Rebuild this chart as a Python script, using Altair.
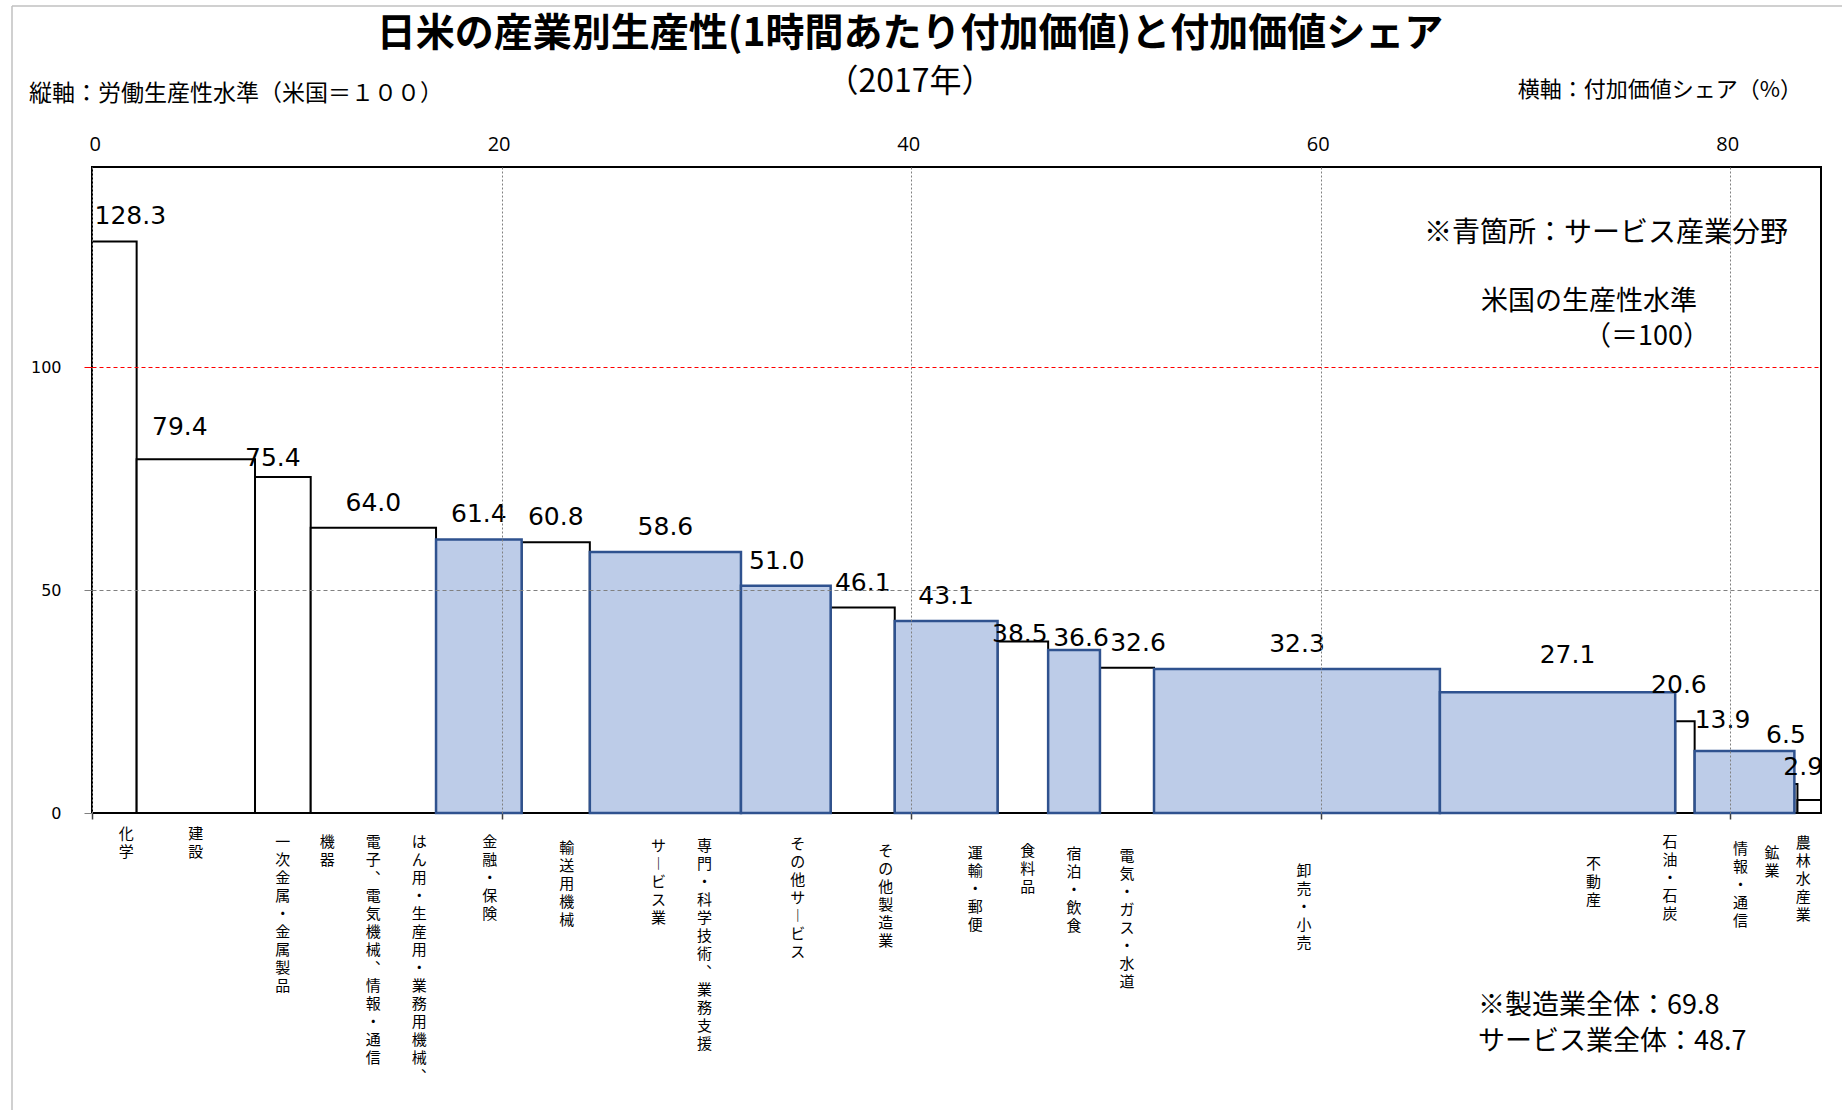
import altair as alt
import pandas as pd

# ---------------- data ----------------
industries = [
    "化学", "建設", "一次金属・金属製品",
    "はん用・生産用・業務用機械、電子、電気機械、情報・通信機器",
    "金融・保険", "輸送用機械", "専門・科学技術、業務支援サービス業",
    "その他サービス", "その他製造業", "運輸・郵便", "食料品", "宿泊・飲食",
    "電気・ガス・水道", "卸売・小売", "不動産", "石油・石炭", "情報・通信",
    "鉱業", "農林水産業",
]
productivity = [128.3, 79.4, 75.4, 64.0, 61.4, 60.8, 58.6, 51.0, 46.1, 43.1,
                38.5, 36.6, 32.6, 32.3, 27.1, 20.6, 13.9, 6.5, 2.9]
va_share = [2.18, 5.78, 2.72, 6.12, 4.18, 3.33, 7.38, 4.38, 3.13, 5.02,
            2.47, 2.53, 2.64, 13.96, 11.49, 0.95, 4.87, 0.15, 1.15]
service_flag = [0, 0, 0, 0, 1, 0, 1, 1, 0, 1, 0, 1, 0, 1, 1, 0, 1, 0, 0]
x_ticks = [0, 20, 40, 60, 80]
y_ticks = [0, 50, 100]
us_level = 100
summary_names = ["※製造業全体", "サービス業全体"]
summary_values = [69.8, 48.7]

# vertical label columns (read right to left)
label_columns = {
    industries[3]: ["はん用・生産用・業務用機械、", "電子、電気機械、情報・通信", "機器"],
    industries[6]: ["専門・科学技術、業務支援", "サービス業"],
}

# ---------------- layout / style ----------------
W, H = 1729, 646
PAD = {"left": 92, "top": 167, "right": 21, "bottom": 297}
Y_MAX = 145
X_MAX = sum(va_share)
PX_X = W / X_MAX
PX_Y = H / Y_MAX
JP = "Noto Sans CJK JP"
COL_GAP = 46
VAL_DY = -25
CAT_DY = 22
CAT_FS = 15
CAT_LH = 18
VERT = str.maketrans({"ー": "︱", "、": "︑"})

# pixel nudges (dx, dy) imitating the hand-placed labels of the original
VAL_NUDGE = {"化学": (16, 0), "建設": (-16, -7), "一次金属・金属製品": (-10, 6),
             "その他サービス": (-9, 0),
             "食料品": (-3, 18), "宿泊・飲食": (7, 13), "電気・ガス・水道": (11, 0),
             "不動産": (10, -12),
             "石油・石炭": (-6, -11), "情報・通信": (-22, -6), "鉱業": (-10, -24),
             "農林水産業": (-6, -8)}
CAT_NUDGE = {"化学": (12, -8), "建設": (0, -8), "金融・保険": (11, 0), "輸送用機械": (11, 6),
             industries[6]: (16, 4), "その他サービス": (12, 2), "その他製造業": (23, 9),
             "運輸・郵便": (29, 11), "食料品": (5, 9), "宿泊・飲食": (0, 12),
             "電気・ガス・水道": (0, 14), "卸売・小売": (7, 29), "不動産": (36, 22),
             "石油・石炭": (-15, 0), "情報・通信": (-4, 7), "鉱業": (-24, 11),
             "農林水産業": (-6, 1)}

# ---------------- tables ----------------
rows, left = [], 0.0
for name, p, s, svc in zip(industries, productivity, va_share, service_flag):
    rows.append(dict(name=name, prod=p, x0=left, x1=left + s, mid=left + s / 2, svc=svc))
    left += s
bars = pd.DataFrame(rows)

val_rows = []
for r in rows:
    dx, dy = VAL_NUDGE.get(r["name"], (0, 0))
    val_rows.append(dict(lx=r["mid"] + dx / PX_X, ly=r["prod"] - dy / PX_Y,
                         t=f"{r['prod']:.1f}"))
vals = pd.DataFrame(val_rows)

cat_rows = []
for r in rows:
    cols = label_columns.get(r["name"], [r["name"]])
    n = len(cols)
    dx, dy = CAT_NUDGE.get(r["name"], (0, 0))
    for i, c in enumerate(cols):
        off = ((n - 1) / 2 - i) * COL_GAP + dx
        cat_rows.append(dict(lx=r["mid"] + off / PX_X, ly=-dy / PX_Y,
                             t="\n".join(c.translate(VERT))))
cats = pd.DataFrame(cat_rows)

# ---------------- chart ----------------
x_scale = alt.Scale(domain=[0, X_MAX], nice=False, zero=True)
y_scale = alt.Scale(domain=[0, Y_MAX], nice=False)

x_top_axis = alt.Axis(orient="top", values=x_ticks, title=None, grid=True,
                      gridColor="#808080", gridDash=[2, 2], gridWidth=1,
                      ticks=False, domain=False, labelFont="Open Sans",
                      labelFontSize=20, labelColor="black", labelPadding=13,
                      labelOffset=-3, zindex=1)
y_axis = alt.Axis(values=y_ticks, title=None, grid=True,
                  gridColor=alt.condition(f"datum.value == {us_level}",
                                          alt.value("#FF0000"), alt.value("#808080")),
                  gridOpacity=alt.condition("datum.value == 0", alt.value(0), alt.value(1)),
                  gridDash=[4, 3], gridWidth=1, tickSize=8,
                  tickColor=alt.condition(f"datum.value == {us_level}",
                                          alt.value("#FF0000"), alt.value("#808080")),
                  labelPadding=23, labelFont="DejaVu Sans", labelFontSize=16,
                  labelColor="black", domain=False, zindex=1)

base = alt.Chart(bars)
white = base.transform_filter("datum.svc == 0").mark_rect(
    fill="white", stroke="black", strokeWidth=2).encode(
    x=alt.X("x0:Q", scale=x_scale, axis=x_top_axis),
    x2="x1:Q",
    y=alt.Y("prod:Q", scale=y_scale, axis=y_axis),
    y2=alt.datum(0),
)
blue = base.transform_filter("datum.svc == 1").mark_rect(
    fill="#BDCCE8", stroke="#2F528F", strokeWidth=2.5).encode(
    x=alt.X("x0:Q", scale=x_scale, axis=None),
    x2="x1:Q",
    y=alt.Y("prod:Q", scale=y_scale, axis=None),
    y2=alt.datum(0),
)
value_labels = alt.Chart(vals).mark_text(
    font="DejaVu Sans", fontSize=25, color="black", baseline="middle",
    align="center", dy=VAL_DY).encode(
    x=alt.X("lx:Q", scale=x_scale, axis=None),
    y=alt.Y("ly:Q", scale=y_scale, axis=None),
    text="t:N",
)
cat_labels = alt.Chart(cats).mark_text(
    font=JP, fontSize=CAT_FS, lineHeight=CAT_LH, lineBreak="\n", color="black",
    baseline="top", align="center", dy=CAT_DY).encode(
    x=alt.X("lx:Q", scale=x_scale,
            axis=alt.Axis(orient="bottom", values=x_ticks, labels=False, ticks=True,
                          tickSize=6, tickColor="#404040", tickWidth=1.5,
                          domain=False, grid=False, title=None)),
    y=alt.Y("ly:Q", scale=y_scale, axis=None),
    text="t:N",
)

one = pd.DataFrame({"a": [0]})


def note(text, x, y, align, size, weight="normal", font=JP):
    return alt.Chart(one).mark_text(
        font=font, fontSize=size, fontWeight=weight, align=align,
        baseline="middle", color="black").encode(
        x=alt.value(x), y=alt.value(y), text=alt.value(text))


notes = [
    note("日米の産業別生産性(1時間あたり付加価値)と付加価値シェア", 818, -133, "center", 39, "bold"),
    note("（2017年）", 818, -85, "center", 32),
    note("縦軸：労働生産性水準（米国＝１００）", -63, -73, "left", 23),
    note("横軸：付加価値シェア（%）", 1710, -77, "right", 22),
    note("※青箇所：サービス産業分野", 1696, 67, "right", 28),
    note("米国の生産性水準", 1605, 135, "right", 27),
    note(f"（＝{us_level}）", 1618, 170, "right", 27),
]
for i, (nm, v) in enumerate(zip(summary_names, summary_values)):
    notes.append(note(f"{nm}：{v:.1f}", 1386, 839 + 36 * i, "left", 27))

frame_top = alt.Chart(one).mark_rule(color="#C0C0C0", strokeWidth=1.5).encode(
    x=alt.value(-80), x2=alt.value(W + PAD["right"]), y=alt.value(-161))
frame_left = alt.Chart(one).mark_rule(color="#C0C0C0", strokeWidth=1.5).encode(
    x=alt.value(-80), y=alt.value(-161), y2=alt.value(H + PAD["bottom"]))

chart = alt.layer(
    frame_top, frame_left, white, blue, value_labels, cat_labels, *notes
).resolve_axis(x="independent", y="independent").properties(
    width=W, height=H, padding=PAD,
    autosize=alt.AutoSizeParams(type="none"),
    background="white",
).configure_view(stroke="black", strokeWidth=2)

chart.save("out.html", embed_options={"renderer": "svg", "actions": False})
